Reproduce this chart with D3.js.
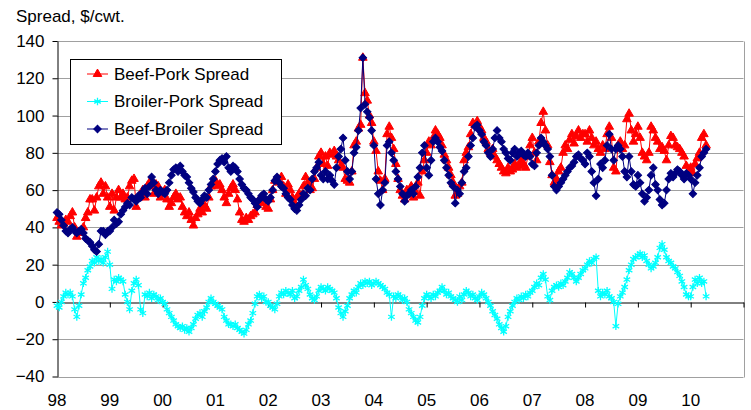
<!DOCTYPE html>
<html>
<head>
<meta charset="utf-8">
<style>
  body { margin: 0; background: #fff; }
  svg { display: block; font-family: "Liberation Sans", Arial, sans-serif; }
</style>
</head>
<body>
<svg width="751" height="410"></svg>
<script src="https://cdn.jsdelivr.net/npm/d3@7"></script>
<script>
// semi-monthly readings, first point = start of 1998
var startYear = 1998, perYear = 24;

var beefPork = [
  45,43,41,42,44,43,46,48,40,35,37,38,40,45,48,55,55,49,56,62,64,58,62,56, // 98
  51,58,49,56,60,56,58,55,56,62,65,66,51,56,58,60,56,62,64,62,58,63,62,56, // 99
  58,60,55,51,53,56,58,55,56,51,48,46,48,44,41,45,47,50,48,52,50,56,62,64, // 00
  65,62,63,60,56,53,58,61,63,60,55,48,44,43,45,44,46,47,48,52,55,53,56,51, // 01
  50,55,60,65,66,64,67,62,58,63,60,56,53,56,58,57,62,67,64,60,61,66,72,78, // 02
  80,74,78,73,80,79,81,78,76,73,72,66,65,64,70,84,86,93,95,131,112,108,100,96, // 03
  86,81,70,65,60,66,90,94,88,82,74,66,60,57,55,60,58,62,56,59,64,57,70,76, // 04
  80,86,84,88,92,90,88,84,79,76,72,68,64,57,58,62,64,76,80,83,90,96,95,97, // 05
  94,92,88,86,82,80,82,78,76,74,72,70,69,72,70,71,74,72,73,76,74,72,78,84, // 06
  88,80,76,86,96,102,92,84,75,68,64,66,70,72,80,84,82,87,90,85,89,92,88,90, // 07
  90,86,92,88,84,86,82,80,84,82,90,94,88,72,70,84,86,82,84,98,101,92,86,90, // 08
  94,88,80,78,76,80,94,92,88,86,82,83,81,76,84,89,88,84,83,82,80,78,73,70, // 09
  72,69,74,77,80,88,90,84 // 10
];

var broilerPork = [
  -2,-3,0,3,5,4,5,3,-4,-8,-2,4,10,13,17,19,22,21,24,22,23,21,24,27,
  20,7,12,11,13,12,11,4,0,-4,6,10,12,9,-4,-6,4,3,5,2,4,3,1,2,
  0,-1,-4,-6,-8,-10,-12,-13,-14,-13,-15,-14,-16,-14,-12,-9,-7,-6,-8,-5,-3,0,2,0,
  -1,-2,-3,-4,-8,-10,-12,-12,-13,-12,-14,-15,-16,-17,-15,-12,-10,-6,-1,3,4,2,3,0,
  0,-2,-3,-4,-1,3,5,4,6,5,4,6,2,3,6,8,12,9,7,4,2,1,3,6,
  8,7,6,8,7,6,5,2,-3,-6,-8,-5,-2,2,4,6,5,8,10,9,11,10,11,9,
  10,11,10,9,8,7,5,4,-8,3,2,4,3,1,2,0,-4,-6,-8,-10,-11,-8,-2,2,
  4,3,2,4,3,5,6,8,6,4,5,3,2,1,0,3,1,4,6,5,3,4,2,1,
  3,5,4,2,0,-2,-5,-7,-9,-12,-14,-16,-13,-8,-5,-2,0,2,1,3,2,4,3,5,
  6,8,10,9,13,15,12,3,1,6,8,9,8,10,9,11,13,16,15,13,11,13,15,17,
  18,20,22,21,23,24,6,3,5,4,6,3,2,0,-13,-1,3,5,8,12,17,20,23,24,
  25,26,24,25,22,20,18,19,21,24,29,31,28,24,22,21,19,18,16,14,11,8,4,3,
  3,8,12,10,13,10,11,3
];

var beefBroiler = [
  48,47,44,41,38,37,39,40,38,37,38,39,37,34,33,32,30,28,27,31,38,38,36,38,
  38,40,44,42,43,47,49,51,53,52,56,55,54,57,56,59,61,58,62,67,64,60,58,60,
  59,58,60,64,68,71,72,70,73,70,68,67,64,61,59,56,54,53,55,57,56,60,63,66,
  70,74,76,77,75,78,72,70,73,72,70,66,63,61,60,58,56,55,53,51,55,57,58,55,
  54,56,60,65,67,64,62,61,58,56,55,52,50,49,52,55,58,57,61,60,66,70,72,75,
  68,66,70,66,68,65,63,72,78,82,88,76,70,66,70,80,83,92,104,131,106,102,99,92,
  84,66,58,52,60,64,84,86,80,76,70,66,62,58,54,57,58,60,58,62,67,72,80,84,
  72,68,76,86,88,86,83,81,76,72,68,64,62,53,60,58,64,70,72,78,84,88,94,95,
  92,90,86,84,80,78,82,88,92,88,86,82,80,77,76,80,82,78,80,81,79,78,80,78,
  74,73,80,84,88,86,84,82,78,68,62,60,62,64,66,68,70,72,73,75,78,79,77,76,
  74,80,78,70,64,57,66,74,72,76,84,90,82,76,82,84,82,78,70,67,78,70,63,62,
  68,64,58,54,56,60,68,72,63,60,55,52,53,60,66,69,67,69,71,70,68,66,69,68,
  66,58,64,68,72,78,80,82
];

var yTicks = [-40, -20, 0, 20, 40, 60, 80, 100, 120, 140];
var yearLabels = ["98","99","00","01","02","03","04","05","06","07","08","09","10"];
var seriesNames = ["Beef-Pork Spread", "Broiler-Pork Spread", "Beef-Broiler Spread"];

var svg = d3.select("svg");
var x = d3.scaleLinear().domain([1998, 2011]).range([57, 743.5]);
var y = d3.scaleLinear().domain([-40, 140]).range([376.5, 41]);
var crisp = function(v) { return Math.round(v) + 0.5; };

// gridlines
svg.append("g").selectAll("line")
  .data(yTicks.filter(function(d) { return d !== 0; }))
  .join("line")
  .attr("x1", x(1998)).attr("x2", x(2011))
  .attr("y1", function(d) { return crisp(y(d)); })
  .attr("y2", function(d) { return crisp(y(d)); })
  .attr("stroke", "#a0a0a0");

// right border of plot area
svg.append("line")
  .attr("x1", crisp(x(2011))).attr("x2", crisp(x(2011)))
  .attr("y1", crisp(y(140))).attr("y2", crisp(y(-40)))
  .attr("stroke", "#a0a0a0");

// x axis on zero line
var xAxis = svg.append("g")
  .attr("transform", "translate(0," + crisp(y(0)) + ")")
  .call(d3.axisBottom(x).tickValues(d3.range(1999, 2012)).tickSize(5).tickSizeOuter(0).tickFormat(""));
xAxis.select(".domain").attr("stroke", "#000");
xAxis.selectAll(".tick line").attr("stroke", "#000");

// y axis
var yAxis = svg.append("g")
  .attr("transform", "translate(" + crisp(x(1998)) + ",0)")
  .call(d3.axisLeft(y).tickValues(yTicks).tickSize(5).tickSizeOuter(0).tickPadding(8));
yAxis.select(".domain").attr("stroke", "#000");
yAxis.selectAll(".tick line").attr("stroke", "#000");
yAxis.selectAll("text").attr("font-size", "17px").attr("fill", "#000")
  .attr("font-family", "'Liberation Sans', Arial, sans-serif");

// year labels along the bottom
svg.append("g").selectAll("text")
  .data(yearLabels)
  .join("text")
  .attr("x", function(d, i) { return x(1998 + i); })
  .attr("y", 406)
  .attr("text-anchor", "middle")
  .attr("font-size", "17px")
  .text(function(d) { return d; });

// title
svg.append("text")
  .attr("x", 16).attr("y", 22)
  .attr("font-size", "17px")
  .text("Spread, $/cwt.");

var series = [
  { name: seriesNames[0], values: beefPork, color: "#ff0000",
    symbol: d3.symbol(d3.symbolTriangle, 32), filled: true, rot: 0, sw: 1 },
  { name: seriesNames[1], values: broilerPork, color: "#00ffff",
    symbol: d3.symbol(d3.symbolAsterisk, 40), filled: false, rot: 0, sw: 1.3 },
  { name: seriesNames[2], values: beefBroiler, color: "#000080",
    symbol: d3.symbol(d3.symbolSquare, 28), filled: true, rot: 45, sw: 1 }
];

var line = d3.line()
  .x(function(d, i) { return x(startYear + i / perYear); })
  .y(function(d) { return y(d); });

series.forEach(function(s) {
  var g = svg.append("g");
  g.append("path")
    .attr("d", line(s.values))
    .attr("fill", "none")
    .attr("stroke", s.color)
    .attr("stroke-width", 1);
  g.selectAll("path.m")
    .data(s.values)
    .join("path")
    .attr("class", "m")
    .attr("d", s.symbol())
    .attr("transform", function(d, i) {
      return "translate(" + x(startYear + i / perYear) + "," + y(d) + ") rotate(" + s.rot + ")";
    })
    .attr("fill", s.filled ? s.color : "none")
    .attr("stroke", s.color)
    .attr("stroke-width", s.sw);
});

// legend
var legend = svg.append("g");
legend.append("rect")
  .attr("x", 70.5).attr("y", 59.5)
  .attr("width", 211).attr("height", 85)
  .attr("fill", "#fff").attr("stroke", "#000");

var items = legend.selectAll("g.item")
  .data(series)
  .join("g")
  .attr("class", "item")
  .attr("transform", function(d, i) { return "translate(0," + (74 + i * 27.5) + ")"; });
items.append("line")
  .attr("x1", 87).attr("x2", 108)
  .attr("stroke", function(d) { return d.color; });
items.append("path")
  .attr("d", function(d) { return d.symbol(); })
  .attr("transform", function(d) { return "translate(97.5,0) rotate(" + d.rot + ")"; })
  .attr("fill", function(d) { return d.filled ? d.color : "none"; })
  .attr("stroke", function(d) { return d.color; })
  .attr("stroke-width", function(d) { return d.sw; });
items.append("text")
  .attr("x", 114).attr("dy", "0.35em")
  .attr("font-size", "17px")
  .text(function(d) { return d.name; });
</script>
</body>
</html>
